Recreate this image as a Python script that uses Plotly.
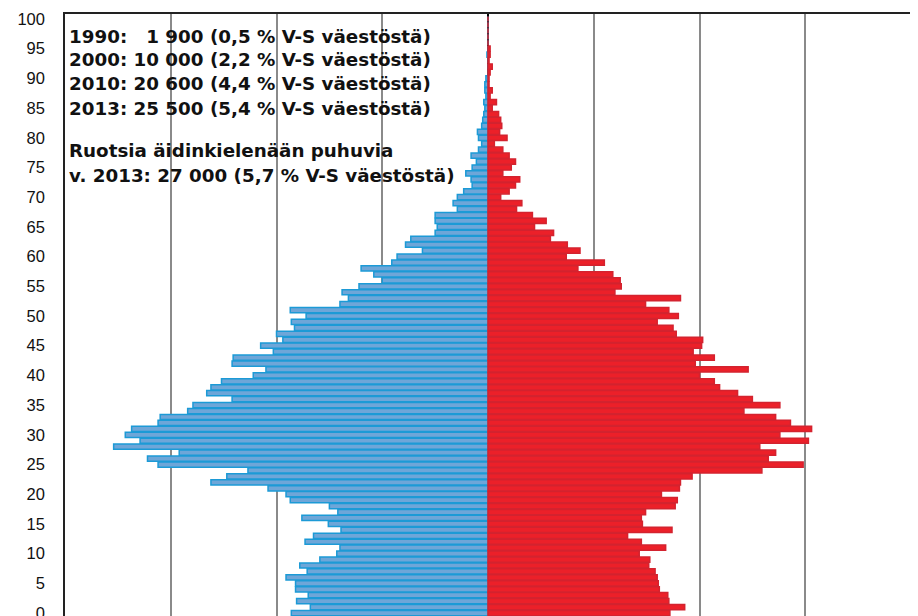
import plotly.graph_objects as go

ages = list(range(0, 101))

# Left side (blue) values per age 0..100 (persons)
blue_vals = [186, 168, 181, 170, 182, 182, 191, 171, 178, 159,
             143, 140, 173, 165, 139, 151, 176, 142, 150, 187,
             191, 208, 262, 247, 227, 312, 322, 292, 354, 329,
             343, 337, 312, 310, 284, 279, 242, 266, 262, 252,
             222, 210, 242, 241, 203, 215, 194, 200, 183, 186,
             172, 187, 140, 132, 138, 122, 100, 108, 120, 91,
             86, 62, 78, 73, 50, 48, 50, 50, 29, 33,
             29, 23, 15, 16, 21, 15, 11, 16, 9, 6,
             9, 10, 6, 5, 4, 3, 4, 2, 3, 3,
             2, 0, 0, 0, 1, 0, 0, 0, 0, 0,
             0]

# Right side (red) values per age 0..100 (persons)
red_vals = [172, 186, 171, 170, 162, 161, 160, 158, 152, 153,
            143, 168, 145, 132, 174, 146, 145, 149, 177, 179,
            164, 181, 182, 193, 259, 298, 265, 272, 257, 303,
            276, 306, 286, 272, 242, 276, 250, 236, 219, 214,
            200, 246, 196, 214, 194, 202, 203, 178, 175, 160,
            180, 171, 149, 182, 120, 126, 125, 118, 85, 110,
            74, 87, 75, 59, 62, 44, 55, 42, 27, 32,
            12, 20, 26, 30, 14, 22, 26, 20, 14, 6,
            18, 11, 13, 12, 10, 4, 8, 2, 4, 1,
            1, 2, 4, 1, 2, 2, 0, 0, 0, 0,
            0]

y_ticks = list(range(0, 101, 5))

info_lines = [
    "1990:   1 900 (0,5 % V-S väestöstä)",
    "2000: 10 000 (2,2 % V-S väestöstä)",
    "2010: 20 600 (4,4 % V-S väestöstä)",
    "2013: 25 500 (5,4 % V-S väestöstä)",
    "Ruotsia äidinkielenään puhuvia",
    "v. 2013: 27 000 (5,7 % V-S väestöstä)",
]
info_y = [97.1, 93.1, 89.1, 85.0, 77.8, 73.7]

fig = go.Figure()
fig.add_trace(go.Bar(
    y=ages, x=[-v for v in blue_vals], orientation="h",
    marker=dict(color="#6ea6d8", line=dict(color="#1c9ad6", width=1.5)),
    hoverinfo="skip", showlegend=False,
))
fig.add_trace(go.Bar(
    y=ages, x=red_vals, orientation="h",
    marker=dict(color="#ec2029", line=dict(color="#d3232f", width=1.5)),
    hoverinfo="skip", showlegend=False,
))

for txt, yy in zip(info_lines, info_y):
    fig.add_annotation(
        x=0.002, xref="paper", y=yy, yref="y", text=txt, showarrow=False,
        xanchor="left", yanchor="middle",
        font=dict(family="DejaVu Sans", size=18.3, color="#111111", weight="bold"),
    )

# page body adds an 8px offset; figure sized so plot area lands at x 65-911, y 14-616
fig.update_layout(
    width=910, height=608,
    margin=dict(l=57, r=7, t=6, b=0, autoexpand=False),
    paper_bgcolor="white", plot_bgcolor="white",
    barmode="overlay", bargap=0.12,
    xaxis=dict(
        range=[-400, 400], tickvals=[-300, -200, -100, 100, 200, 300],
        showticklabels=False, showgrid=True, gridcolor="#8a8a8a", gridwidth=1.5,
        zeroline=True, zerolinecolor="black", zerolinewidth=2,
        showline=True, linecolor="#222222", linewidth=1.5, mirror=True,
        layer="above traces", fixedrange=True, automargin=False,
    ),
    yaxis=dict(
        range=[-0.5, 100.84], tickvals=y_ticks, ticktext=[str(t) for t in y_ticks],
        showgrid=False, zeroline=False,
        showline=True, linecolor="#222222", linewidth=1.5, mirror=True,
        ticks="", ticklabelstandoff=15, automargin=False, ticklabeloverflow="allow",
        tickfont=dict(family="Liberation Sans", size=16.5, color="#111111"),
        fixedrange=True,
    ),
)

fig.write_html("out.html")
